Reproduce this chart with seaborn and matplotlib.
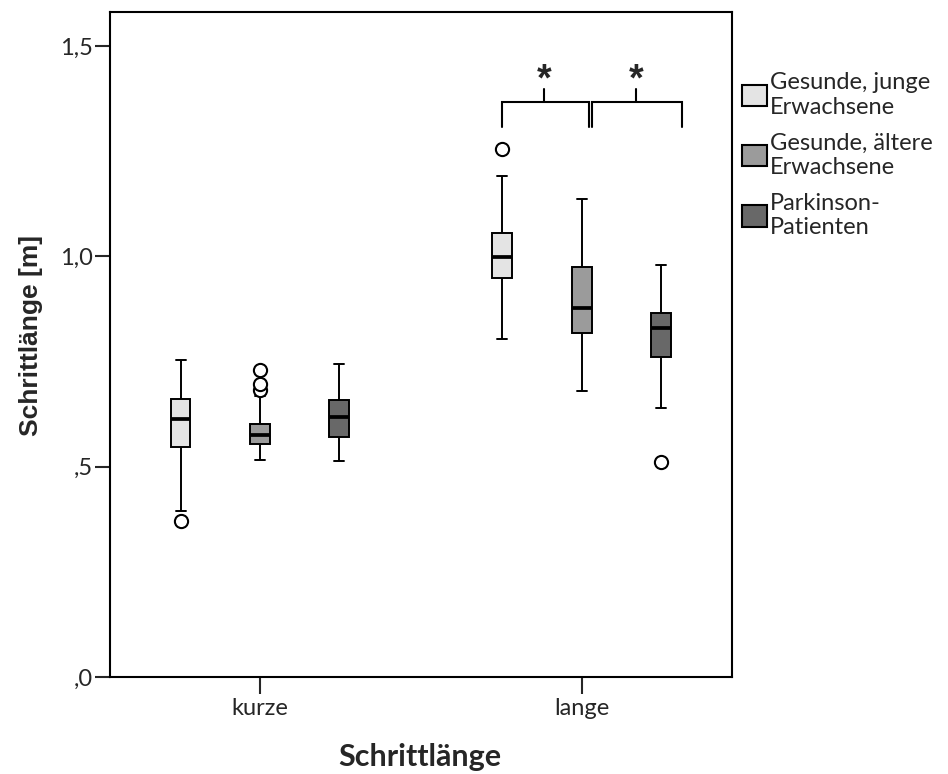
import numpy as np
import pandas as pd
import matplotlib
matplotlib.use("Agg")
import matplotlib.pyplot as plt
from matplotlib.patches import Patch
from matplotlib.ticker import FixedLocator, FixedFormatter
import seaborn as sns

# ---------------- data ----------------
categories = ["kurze", "lange"]
groups = ["Gesunde, junge Erwachsene", "Gesunde, ältere Erwachsene", "Parkinson-Patienten"]
legend_labels = ["Gesunde, junge\nErwachsene", "Gesunde, ältere\nErwachsene", "Parkinson-\nPatienten"]
colors = ["#e4e4e4", "#9b9b9b", "#686868"]

# box order: kurze x 3 groups, lange x 3 groups
box_category = ["kurze", "kurze", "kurze", "lange", "lange", "lange"]
box_group = groups + groups
whisker_low = [0.395, 0.515, 0.514, 0.803, 0.681, 0.639]
quart_1 = [0.547, 0.555, 0.571, 0.948, 0.818, 0.761]
medians = [0.613, 0.575, 0.619, 0.998, 0.878, 0.829]
quart_3 = [0.661, 0.602, 0.658, 1.055, 0.974, 0.865]
whisker_high = [0.753, 0.669, 0.743, 1.190, 1.136, 0.979]
outliers = [[0.372], [0.683, 0.697, 0.731], [], [1.255], [], [0.512]]

ytick_values = [0.0, 0.5, 1.0, 1.5]
ytick_labels = [",0", ",5", "1,0", "1,5"]


def sample_from_summary(lo, a, m, b, hi, outs, k=6):
    """Build a sample whose quartiles/whiskers equal the read summary values."""
    low = sorted(o for o in outs if o < a)
    high = sorted(o for o in outs if o > b)
    vals = low + [lo]
    vals += [a] * (k + 1 - len(vals))
    vals += [m] * k
    vals += [b] * k
    vals += [b] * (k - 1 - len(high)) + [hi] + high
    return vals


rows = []
for i in range(len(box_category)):
    for v in sample_from_summary(whisker_low[i], quart_1[i], medians[i], quart_3[i],
                                 whisker_high[i], outliers[i]):
        rows.append({"Schrittlänge": box_category[i], "Gruppe": box_group[i], "Wert": v})
df = pd.DataFrame(rows)

# ---------------- style ----------------
sns.set_style("white")
plt.rcParams["font.family"] = ["Lato", "DejaVu Sans"]

fig = plt.figure(figsize=(9.48, 7.74), dpi=100)
ax = fig.add_axes([110 / 948, 1 - 677 / 774, (732 - 110) / 948, (677 - 12) / 774])

sns.boxplot(
    data=df, x="Schrittlänge", y="Wert", hue="Gruppe",
    order=categories, hue_order=groups, palette=colors, saturation=1,
    width=0.74, gap=0.75, linecolor="black", linewidth=1.4,
    fliersize=9.5,
    flierprops=dict(marker="o", markerfacecolor="white", markeredgecolor="black",
                    markeredgewidth=1.5),
    medianprops=dict(linewidth=2.7, color="black"),
    legend=False, ax=ax,
)

ax.set_xlim(-0.466, 1.467)
ax.set_ylim(0, 1.581)

for s in ax.spines.values():
    s.set_visible(True)
    s.set_color("black")
    s.set_linewidth(1.5)

ax.yaxis.set_major_locator(FixedLocator(ytick_values))
ax.yaxis.set_major_formatter(FixedFormatter(ytick_labels))
ax.tick_params(axis="y", direction="out", length=11, width=1.5, pad=1.5,
               labelsize=17, left=True)
ax.tick_params(axis="x", direction="out", length=12, width=1.5, pad=3,
               labelsize=17, bottom=True)

ax.set_xlabel("Schrittlänge", fontsize=22, fontweight="bold", family=["Lato", "DejaVu Sans"])
ax.set_ylabel("Schrittlänge [m]", fontsize=19, fontweight="bold",
              family=["Liberation Sans", "DejaVu Sans"])
ax.xaxis.set_label_coords((420 - 110) / 622, (677 - 743) / 665)
ax.yaxis.set_label_coords((43 - 110) / 622, (677 - 335) / 665)

# ---------------- significance brackets ----------------
bracket_y = 1.3675
leg_y = 1.3066
tick_y = 1.3977
star_y = 1.418
brackets = [(0.751, 1.0227, 0.884), (1.031, 1.311, 1.169)]
for x0, x1, xm in brackets:
    ax.plot([x0, x0, x1, x1], [leg_y, bracket_y, bracket_y, leg_y], color="black",
            lw=1.5, solid_joinstyle="miter", clip_on=False)
    ax.plot([xm, xm], [bracket_y, tick_y], color="black", lw=1.5)
    ax.text(xm, star_y, "*", ha="center", va="center", fontsize=27, fontweight="bold",
            family=["Liberation Sans", "DejaVu Sans"])

# ---------------- legend ----------------
handles = [Patch(facecolor=c, edgecolor="black", linewidth=1.5) for c in colors]
leg = fig.legend(handles, legend_labels, loc="upper left",
                 bbox_to_anchor=(742 / 948, 1 - 72 / 774),
                 frameon=False, fontsize=17, handlelength=1.06, handleheight=1.02,
                 handletextpad=0.12, labelspacing=0.62, borderpad=0, borderaxespad=0)
for t in leg.get_texts():
    t.set_linespacing(1.22)

fig.savefig("out.png", dpi=100)
